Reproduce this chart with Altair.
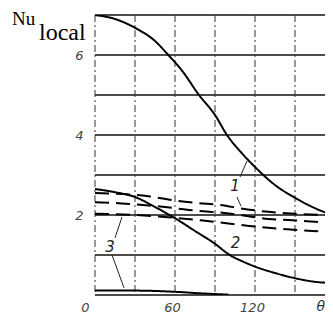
import altair as alt
import pandas as pd

# ---- data ----
theta_1 = [0, 15, 30, 45, 55, 65, 78, 90, 99, 110, 120, 135, 150, 165, 178]
nu_1 = [7.0, 6.9, 6.68, 6.35, 6.0, 5.62, 5.0, 4.5, 4.0, 3.55, 3.2, 2.75, 2.43, 2.17, 2.0]

theta_2 = [0, 15, 30, 45, 60, 75, 90, 101, 110, 120, 135, 150, 165, 178]
nu_2 = [2.65, 2.57, 2.45, 2.2, 1.92, 1.6, 1.28, 1.0, 0.85, 0.71, 0.55, 0.42, 0.33, 0.3]

theta_3 = [0, 30, 60, 80, 100]
nu_3 = [0.11, 0.11, 0.08, 0.04, 0.01]

theta_d1 = [0, 10, 40, 58, 76, 94, 112, 130, 150, 178]
nu_d1 = [2.55, 2.54, 2.47, 2.37, 2.3, 2.25, 2.15, 2.08, 2.03, 2.0]

theta_d2 = [0, 20, 40, 60, 75, 97, 115, 130, 148, 165, 178]
nu_d2 = [2.32, 2.29, 2.24, 2.17, 2.11, 2.05, 1.97, 1.9, 1.87, 1.83, 1.81]

theta_d3 = [0, 30, 60, 81, 100, 120, 141, 163, 178]
nu_d3 = [2.03, 2.0, 1.93, 1.86, 1.79, 1.71, 1.65, 1.6, 1.57]

x_ticks = [0, 30, 60, 90, 120, 150]
y_ticks = [0, 1, 2, 3, 4, 5, 6, 7]
x_labels = [0, 60, 120]
y_labels = [2, 4, 6]

label_text = ["1", "2", "3"]
label_theta = [105, 105.4, 11.25]
label_nu = [2.72, 1.3, 1.2]

leader_theta = [114, 106.5, 15, 12.75]
leader_nu = [3.35, 2.45, 1.43, 1.0]
leader_theta2 = [108.75, 109.5, 20.25, 21.75]
leader_nu2 = [2.95, 2.22, 1.95, 0.18]

# ---- build tables ----
rows = []
for name, style, th, nu in [
    ("s1", "solid", theta_1, nu_1),
    ("s2", "solid", theta_2, nu_2),
    ("s3", "solid", theta_3, nu_3),
    ("d1", "dashed", theta_d1, nu_d1),
    ("d2", "dashed", theta_d2, nu_d2),
    ("d3", "dashed", theta_d3, nu_d3),
]:
    for t, v in zip(th, nu):
        rows.append({"theta": t, "nu": v, "curve": name, "style": style})
df = pd.DataFrame(rows)

labels_df = pd.DataFrame({"theta": label_theta, "nu": label_nu, "txt": label_text})
leaders_df = pd.DataFrame({"theta": leader_theta, "nu": leader_nu,
                           "theta2": leader_theta2, "nu2": leader_nu2})

xscale = alt.Scale(domain=[0, 172.5], nice=False, zero=False)
yscale = alt.Scale(domain=[0, 7], nice=False)

x_axis = alt.Axis(
    values=x_labels,
    grid=False, ticks=False, domain=False, title=None,
    labelFont="DejaVu Sans", labelFontStyle="italic", labelFontSize=13,
    labelColor="#444", labelPadding=6, labelFlush=False,
    labelOffset={"condition": {"test": "datum.value == 0", "value": -10}, "value": -3},
)
y_axis = alt.Axis(
    values=y_labels,
    grid=False, ticks=False, domain=False, title=None,
    labelFont="DejaVu Sans", labelFontStyle="italic", labelFontSize=13,
    labelColor="#444", labelPadding=12,
)

hgrid = alt.Chart(pd.DataFrame({"nu": y_ticks})).mark_rule(color="#111", strokeWidth=1.4).encode(
    y=alt.Y("nu:Q", scale=yscale, axis=y_axis),
)
vgrid = alt.Chart(pd.DataFrame({"theta": x_ticks})).mark_rule(
    color="#333", strokeWidth=1, strokeDash=[7, 3, 2, 3]
).encode(
    x=alt.X("theta:Q", scale=xscale, axis=x_axis),
)

lines = alt.Chart(df).mark_line(color="black", strokeWidth=2, interpolate="monotone", clip=True).encode(
    x=alt.X("theta:Q", scale=xscale),
    y=alt.Y("nu:Q", scale=yscale),
    detail="curve:N",
    strokeDash=alt.StrokeDash("style:N", scale=alt.Scale(domain=["solid", "dashed"], range=[[1, 0], [14, 7]]), legend=None),
)

leaders = alt.Chart(leaders_df).mark_rule(color="#222", strokeWidth=1).encode(
    x=alt.X("theta:Q", scale=xscale), y=alt.Y("nu:Q", scale=yscale),
    x2="theta2:Q", y2="nu2:Q",
)

labels = alt.Chart(labels_df).mark_text(font="DejaVu Sans", fontStyle="italic", fontSize=15, color="#222").encode(
    x=alt.X("theta:Q", scale=xscale), y=alt.Y("nu:Q", scale=yscale), text="txt:N",
)

theta_lbl = alt.Chart(pd.DataFrame({"t": ["θ"]})).mark_text(
    font="DejaVu Sans", fontStyle="italic", fontSize=14, color="#333", align="right", baseline="top"
).encode(x=alt.value(230), y=alt.value(285), text="t:N")

nu_lbl = alt.Chart(pd.DataFrame({"t": ["Nu"]})).mark_text(
    font="Liberation Serif", fontSize=19, color="black", align="left", baseline="alphabetic"
).encode(x=alt.value(-83), y=alt.value(10), text="t:N")

local_lbl = alt.Chart(pd.DataFrame({"t": ["local"]})).mark_text(
    font="Liberation Serif", fontSize=24, color="black", align="left", baseline="alphabetic"
).encode(x=alt.value(-56), y=alt.value(25), text="t:N")

chart = alt.layer(hgrid, vgrid, lines, leaders, labels, theta_lbl, nu_lbl, local_lbl).properties(
    width=230, height=280,
    padding={"left": 87, "top": 7, "right": 0, "bottom": 18},
    autosize=alt.AutoSizeParams(type="none"),
    background="white",
).configure_view(stroke=None)

chart.save("out.html", embed_options={"renderer": "svg", "actions": False})
